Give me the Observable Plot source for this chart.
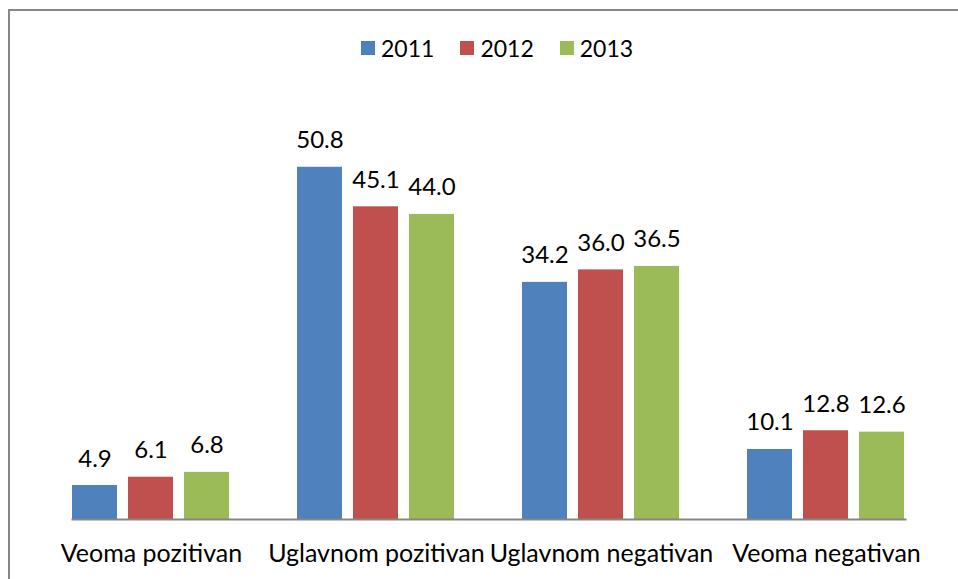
<!DOCTYPE html>
<html>
<head>
<meta charset="utf-8">
<script src="https://cdn.jsdelivr.net/npm/d3@7"></script>
<script src="https://cdn.jsdelivr.net/npm/@observablehq/plot@0.6"></script>
<style>
  html, body { margin: 0; padding: 0; background: #fff; }
  #wrap { position: relative; width: 958px; height: 579px; overflow: hidden; font-family: Lato, sans-serif; }
  #frame { position: absolute; left: 8px; top: 9px; width: 1000px; height: 1000px;
           border-left: 2px solid #878787; border-top: 2px solid #878787; box-sizing: border-box; }
  #legend { position: relative; height: 90px; }
  #legend .items { position: absolute; left: 361px; top: 34px; display: flex; align-items: center; }
  #legend .item { display: flex; align-items: center; margin-right: 26px; font-size: 23px; color: #000; }
  #legend .sw { width: 14px; height: 14px; margin-right: 6px; }
  #chart { position: relative; }
</style>
</head>
<body>
<div id="wrap">
  <div id="frame"></div>
  <div id="legend"><div class="items"></div></div>
  <div id="chart"></div>
</div>
<script>
const categories = ["Veoma pozitivan", "Uglavnom pozitivan", "Uglavnom negativan", "Veoma negativan"];
const years = ["2011", "2012", "2013"];
const values2011 = [4.9, 50.8, 34.2, 10.1];
const values2012 = [6.1, 45.1, 36.0, 12.8];
const values2013 = [6.8, 44.0, 36.5, 12.6];
const colors = ["#4F81BD", "#C0504D", "#9BBB59"];

const series = [values2011, values2012, values2013];
const data = categories.flatMap((c, i) => years.map((y, j) => ({category: c, year: y, value: series[j][i]})));

const items = document.querySelector("#legend .items");
years.forEach((y, j) => {
  const it = document.createElement("div");
  it.className = "item";
  it.innerHTML = `<span class="sw" style="background:${colors[j]}"></span><span>${y}</span>`;
  items.appendChild(it);
});

const chart = Plot.plot({
  width: 958,
  height: 489,
  marginLeft: 38,
  marginRight: 20,
  marginTop: 13,
  marginBottom: 60,
  style: {fontFamily: "Lato, sans-serif", fontSize: "23px", color: "#000", background: "transparent", overflow: "visible"},
  fx: {domain: categories, paddingInner: 0.298, paddingOuter: 0.149, label: null},
  x: {domain: years, paddingInner: 0.196, paddingOuter: 0, axis: null},
  y: {domain: [0, 60], axis: null},
  color: {domain: years, range: colors},
  marks: [
    Plot.barY(data, {fx: "category", x: "year", y: "value", fill: "year"}),
    Plot.text(data, {fx: "category", x: "year", y: "value", text: d => d.value.toFixed(1), lineAnchor: "bottom", dy: -19, fontSize: 24, fill: "#000"}),
    Plot.frame({anchor: "bottom", facet: "super", stroke: "#868686", strokeWidth: 2}),
    Plot.axisFx({anchor: "bottom", tickSize: 0, tickPadding: 25, fontSize: 25, label: null, fill: "#000"})
  ]
});
document.getElementById("chart").appendChild(chart);
</script>
</body>
</html>
